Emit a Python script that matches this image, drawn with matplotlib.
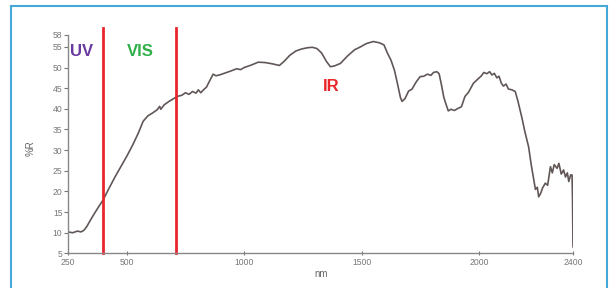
"""
Reflectance spectrum, %R vs wavelength (UV / VIS / IR)
"""

import matplotlib
matplotlib.use("Agg")
import matplotlib.pyplot as plt
from matplotlib.patches import Rectangle

# wavelength (nm) and reflectance (%R)
wavelength = [250, 270, 290, 305, 318, 330, 350, 375, 400, 425, 450, 475, 500,
              525, 550, 570, 590, 610, 630, 640, 645, 660, 680, 700, 715, 735,
              750, 765, 780, 795, 805, 815, 825, 840, 855, 868, 880, 900, 920,
              945, 968, 985, 1000, 1030, 1060, 1090, 1120, 1150, 1170, 1195,
              1220, 1245, 1270, 1290, 1310, 1330, 1350, 1367, 1385, 1410, 1440,
              1470, 1495, 1520, 1550, 1575, 1595, 1610, 1625, 1640, 1655, 1665,
              1672, 1685, 1700, 1715, 1730, 1749, 1765, 1780, 1795, 1806, 1820,
              1830, 1840, 1850, 1860, 1869, 1880, 1895, 1910, 1925, 1940, 1955,
              1976, 1995, 2010, 2020, 2033, 2045, 2055, 2065, 2076, 2085, 2095,
              2104, 2115, 2125, 2140, 2154, 2165, 2183, 2195, 2211, 2222, 2232,
              2240, 2248, 2254, 2262, 2270, 2282, 2292, 2304, 2312, 2320, 2332,
              2340, 2350, 2360, 2368, 2376, 2382, 2390, 2396, 2398, 2400]
reflect = [10.2, 10.0, 10.4, 10.2, 10.6, 11.5, 13.5, 15.8, 18.0, 20.8, 23.5,
           26.0, 28.5, 31.2, 34.2, 37.0, 38.3, 39.0, 39.8, 40.6, 39.9, 41.0,
           41.8, 42.5, 43.0, 43.3, 43.9, 43.5, 44.2, 43.8, 44.6, 43.9, 44.5,
           45.3, 47.0, 48.4, 48.0, 48.3, 48.7, 49.2, 49.7, 49.5, 50.0, 50.6,
           51.3, 51.2, 50.9, 50.5, 51.5, 53.0, 54.0, 54.5, 54.8, 54.9, 54.6,
           53.5, 51.5, 50.2, 50.4, 51.0, 52.8, 54.3, 55.0, 55.8, 56.3, 56.0,
           55.5, 53.5, 51.8, 49.3, 45.5, 42.8, 41.8, 42.5, 44.3, 44.8, 46.3,
           47.8, 47.9, 48.4, 48.1, 48.8, 49.0, 48.5, 45.8, 42.8, 41.0, 39.5,
           39.9, 39.6, 40.1, 40.5, 43.0, 44.0, 46.2, 47.2, 48.0, 48.8, 48.5,
           49.0, 48.2, 48.6, 47.5, 47.9, 46.2, 45.5, 46.0, 44.8, 44.6, 44.2,
           42.0, 37.7, 34.5, 30.8, 26.5, 23.2, 20.5, 21.0, 18.7, 19.5, 20.8,
           22.0, 21.5, 26.0, 24.5, 26.5, 25.6, 26.8, 24.2, 25.2, 23.5, 24.5,
           22.4, 24.0, 24.0, 18.0, 6.6]

# region boundaries (nm) and labels
bounds = [400, 710]
region_labels = ["UV", "VIS", "IR"]
region_colors = ["#6a3aa0", "#2fb04a", "#e8262b"]

xticks = [250, 500, 1000, 1500, 2000, 2400]
yticks = [5, 10, 15, 20, 25, 30, 35, 40, 45, 50, 55, 58]

plt.rcParams['font.family'] = ['Liberation Sans', 'DejaVu Sans']

fig = plt.figure(figsize=(6.09, 2.88), dpi=100)
ax = fig.add_axes([68/609, 1 - 253.4/288, (573 - 68)/609, (253.4 - 34.5)/288])

# light blue frame around the panel
fig.patches.append(Rectangle((11/609, -0.1), (607 - 11)/609, 1.1 - 6/288,
                             transform=fig.transFigure, fill=False,
                             edgecolor="#45a8d6", linewidth=1.5))

ax.plot(wavelength, reflect, color="#625757", linewidth=1.2)

for b in bounds:
    ax.plot([b, b], [5, 59.5], color="#e8262b", linewidth=2, clip_on=False)

# UV / VIS / IR labels (placed in figure pixels)
label_xy = [(70, 52), (127, 52), (323, 87)]
for txt, col, (px, py) in zip(region_labels, region_colors, label_xy):
    fig.text(px/609, 1 - py/288, txt, color=col, fontsize=12,
             fontweight="bold", va="center", ha="left")

ax.set_xlim(250, 2400)
ax.set_ylim(5, 58)
ax.set_xticks(xticks)
ax.set_yticks(yticks)
ax.tick_params(labelsize=6.2, colors="#777777", length=3, width=0.8)
ax.tick_params(axis="x", direction="inout", pad=2)
ax.tick_params(axis="y", pad=1)
for s in ["top", "right"]:
    ax.spines[s].set_visible(False)
for s in ["left", "bottom"]:
    ax.spines[s].set_color("#888888")
    ax.spines[s].set_linewidth(1.0)

fig.text(31/609, 1 - 148/288, "%R", rotation=90, fontsize=7,
         color="#666666", ha="center", va="center")
fig.text(321/609, 1 - 274/288, "nm", fontsize=7, color="#666666",
         ha="center", va="center")

fig.savefig("out.png", dpi=100)
